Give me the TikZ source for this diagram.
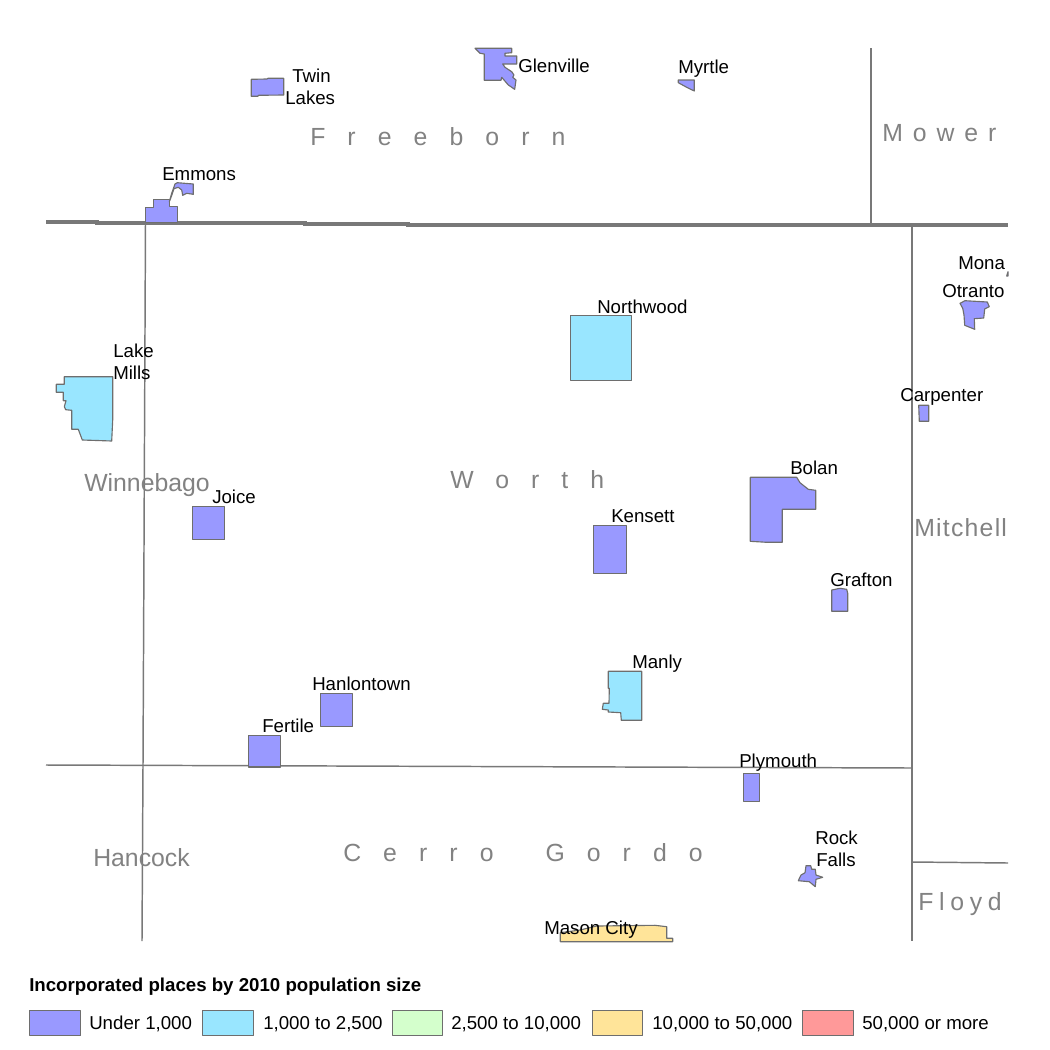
\documentclass[tikz,border=0pt]{standalone}
\usepackage{fontspec}
\setmainfont{Liberation Sans}
\newcommand{\LINEPT}{1.1pt}
\newcommand{\THICKPT}{3pt}
\newcommand{\EDGEPT}{0.85pt}
\definecolor{myunder}{RGB}{153,153,255}
\definecolor{myblue}{RGB}{153,230,255}
\definecolor{mygreen}{RGB}{212,255,204}
\definecolor{myyellow}{RGB}{255,228,153}
\definecolor{myred}{RGB}{255,153,153}
\definecolor{mygray}{RGB}{120,120,120}
\definecolor{myedge}{RGB}{110,110,110}
\definecolor{mytext}{RGB}{130,130,130}
\tikzset{
	place/.style={draw=myedge,line width=\EDGEPT,line join=round},
	border/.style={draw=mygray,line width=\LINEPT},
	placelabel/.style={anchor=base west,inner sep=0pt,font=\fontsize{14}{16.5}\selectfont},
	county/.style={anchor=base west,inner sep=0pt,text=mytext,font=\fontsize{18.6}{22}\selectfont}
}

\begin{document}
\begin{tikzpicture}[x=0.75pt,y=-0.75pt]

	\useasboundingbox (0,0) rectangle (1050,1050);

	%% county borders
	\coordinate (n1) at (46,221.7);
	\coordinate (n2) at (96.5,221.7);
	\coordinate (n3) at (96.5,222.7);
	\coordinate (n4) at (305,222.7);
	\coordinate (n5) at (305,223.7);
	\coordinate (n6) at (408,223.7);
	\coordinate (n7) at (408,225);
	\coordinate (n8) at (1008,225);
	\coordinate (w1) at (145.5,222);
	\coordinate (w2) at (143,766);
	\coordinate (w3) at (142,941);
	\coordinate (e1) at (912,225);
	\coordinate (e2) at (912,941);
	\coordinate (s1) at (46,765);
	\coordinate (s2) at (912,768);
	\coordinate (m1) at (871,48);
	\coordinate (m2) at (871,224);
	\coordinate (f1) at (912,862);
	\coordinate (f2) at (1008,863);

	\draw[border] (w1) -- (w2) -- (w3);
	\draw[border] (e1) -- (e2);
	\draw[border] (s1) -- (s2);
	\draw[border] (m1) -- (m2);
	\draw[border] (f1) -- (f2);
	\draw[mygray,line width=\THICKPT] (n1) -- (n2) -- (n3) -- (n4) -- (n5) -- (n6) -- (n7) -- (n8);

	%% places under 1,000
	\filldraw[place,fill=myunder] (251.3,79.3) -- (267,79) -- (268,78.3) -- (283.7,78.3) -- (283.7,95) -- (258.7,95.3) -- (257.7,96.3) -- (251.3,96.3) -- cycle;
	\filldraw[place,fill=myunder] (145.3,222.7) -- (145.3,207.3) -- (153.3,207.3) -- (153.3,199.3) -- (169.3,199.3) -- (169.3,206.7) -- (177.3,206.7) -- (177.3,222.7) -- cycle;
	\filldraw[place,fill=myunder] (175,184) -- (177.3,182.7) -- (193.3,184) -- (193.3,194.3) -- (186.7,193.3) -- (182.7,195.3) -- (181.7,190) -- (178.3,187.3) -- (174,188.7) -- (170.7,198.3) -- (169.3,201.7) -- (171.7,193.3) -- cycle;
	\filldraw[place,fill=myunder] (475,48.3) -- (511.7,48.3) -- (511.7,52.7) -- (505,53.3) -- (505,56) -- (516.7,56) -- (516.7,64) -- (502.7,64) -- (505,67.3) -- (511.7,71.7) -- (514,75) -- (512.7,77.3) -- (516,80) -- (514.7,89.3) -- (508.3,85) -- (501.7,77.3) -- (501,80.3) -- (484.3,80.3) -- (484.3,54) -- (480,53.3) -- cycle;
	\filldraw[place,fill=myunder] (678.3,80) -- (694.3,80) -- (694.3,91) -- (686.7,87.3) -- (678.3,82.7) -- cycle;
	\filldraw[place,fill=myunder] (960,303.3) -- (965,300.7) -- (987.3,302) -- (989.3,306.7) -- (984.7,309) -- (983.7,318) -- (974.3,318.7) -- (974.7,329.3) -- (964.7,325.3) -- (964,315) -- (962.7,308.3) -- cycle;
	\filldraw[place,fill=myunder] (1006.7,276) -- (1008,271.7) -- (1008,276) -- cycle;
	\filldraw[place,fill=myunder] (918.7,405.3) -- (928.7,405.3) -- (928.7,421.3) -- (919.3,421.3) -- cycle;
	\filldraw[place,fill=myunder] (750.3,477.3) -- (796.7,477.3) -- (800,482.7) -- (808.3,489.3) -- (815.7,490.3) -- (815.7,509.3) -- (782.3,509.3) -- (782.3,542.3) -- (766.7,542.3) -- (750.3,541.3) -- cycle;
	\filldraw[place,fill=myunder] (831.7,590) -- (840,588.3) -- (846.7,589.3) -- (847.7,593.3) -- (847.7,611.3) -- (831.7,611.3) -- cycle;
	\filldraw[place,fill=myunder] (743.5,773.5) rectangle (759.5,801.5);
	\filldraw[place,fill=myunder] (806,865.7) -- (810.7,865.7) -- (811.7,869.3) -- (815.3,869.3) -- (816,875) -- (822.7,877.3) -- (816,879.3) -- (815.3,886.7) -- (809.3,881.7) -- (798.3,880.7) -- (801,875) -- (805,872.7) -- cycle;
	\filldraw[place,fill=myunder] (192.5,506.5) rectangle (224.5,539.5);
	\filldraw[place,fill=myunder] (593.5,525.5) rectangle (626.5,573.5);
	\filldraw[place,fill=myunder] (320.5,693.5) rectangle (352.5,726.5);
	\filldraw[place,fill=myunder] (248.5,735.5) rectangle (280.5,767);

	%% places 1,000 to 2,500
	\filldraw[place,fill=myblue] (570.5,315.5) rectangle (631.5,380.5);
	\filldraw[place,fill=myblue] (64.3,376.7) -- (112.7,376.7) -- (112.7,420) -- (111.7,441) -- (82.3,440) -- (78.3,429.3) -- (71.7,429.3) -- (71.7,410.3) -- (65.7,409.7) -- (64.3,406.7) -- (66,400.7) -- (63.3,400.7) -- (63.3,392.3) -- (56.3,392.3) -- (56.3,384.3) -- (64.3,384.3) -- cycle;
	\filldraw[place,fill=myblue] (608.3,671.3) -- (641.7,671.3) -- (641.7,720.3) -- (621.3,720.3) -- (620.7,712.7) -- (608.3,712) -- (608.3,710) -- (602.3,709.3) -- (603.3,703.3) -- (609,703.3) -- (609.3,688.3) -- (608.3,688.3) -- cycle;

	%% places 10,000 to 50,000
	\filldraw[place,fill=myyellow] (560.3,941.7) -- (560.3,932.7) -- (580,930) -- (596.7,926) -- (655,925.3) -- (666.7,926.7) -- (666.7,938.3) -- (672.7,938.3) -- (672.7,941.7) -- cycle;

	%% place names
	\node[placelabel] (Twin) at (292,82) {Twin};
	\node[placelabel] (Lakes) at (285,104) {Lakes};
	\node[placelabel] (Glenville) at (518,72) {Glenville};
	\node[placelabel] (Myrtle) at (678,73) {Myrtle};
	\node[placelabel] (Emmons) at (162,180) {Emmons};
	\node[placelabel] (Mona) at (958,269) {Mona};
	\node[placelabel] (Otranto) at (942,297) {Otranto};
	\node[placelabel] (Northwood) at (597,313) {Northwood};
	\node[placelabel] (Carpenter) at (900,401) {Carpenter};
	\node[placelabel] (Lake) at (113,357) {Lake};
	\node[placelabel] (Mills) at (113,379) {Mills};
	\node[placelabel] (Bolan) at (790,474) {Bolan};
	\node[placelabel] (Joice) at (212,503) {Joice};
	\node[placelabel] (Kensett) at (611,522) {Kensett};
	\node[placelabel] (Grafton) at (830,586) {Grafton};
	\node[placelabel] (Manly) at (632,668) {Manly};
	\node[placelabel] (Hanlontown) at (312,690) {Hanlontown};
	\node[placelabel] (Fertile) at (262,732) {Fertile};
	\node[placelabel] (Plymouth) at (739,767) {Plymouth};
	\node[placelabel] (Rock) at (815,844) {Rock};
	\node[placelabel] (Falls) at (816,866) {Falls};
	\node[placelabel] (MasonCity) at (544,934) {Mason City};

	%% county names
	\node[county] (Freeborn) at (310,145) {\addfontfeature{LetterSpace=89}Freeborn};
	\node[county] (Mower) at (882,141) {\addfontfeature{LetterSpace=40}Mower};
	\node[county] (Winnebago) at (84,491) {Winnebago};
	\node[county] (Worth) at (450,488) {\addfontfeature{LetterSpace=89}Worth};
	\node[county] (Mitchell) at (914,536) {\addfontfeature{LetterSpace=5}Mitchell};
	\node[county] (Hancock) at (93,866) {Hancock};
	\node[county] (CerroGordo) at (343,861) {\addfontfeature{LetterSpace=89}Cerro\hspace{17.25pt} Gordo};
	\node[county] (Floyd) at (918,910) {\addfontfeature{LetterSpace=23}Floyd};

	%% legend
	\node[placelabel,font=\fontsize{14}{16}\selectfont\bfseries] (LegendTitle) at (29,991) {Incorporated places by 2010 population size};
	\foreach \xa/\xb/\xt/\col/\lab in {29.5/80.5/89/myunder/Under 1{,}000,202.5/253.5/263/myblue/1{,}000 to 2{,}500,392.5/442.5/451/mygreen/2{,}500 to 10{,}000,592.5/642.5/652/myyellow/10{,}000 to 50{,}000,802.5/853.5/862/myred/50{,}000 or more}{
		\filldraw[place,fill=\col] (\xa,1010.5) rectangle (\xb,1035.5);
		\node[placelabel] (Legend\xt) at (\xt,1029) {\lab};
	}

\end{tikzpicture}
\end{document}
